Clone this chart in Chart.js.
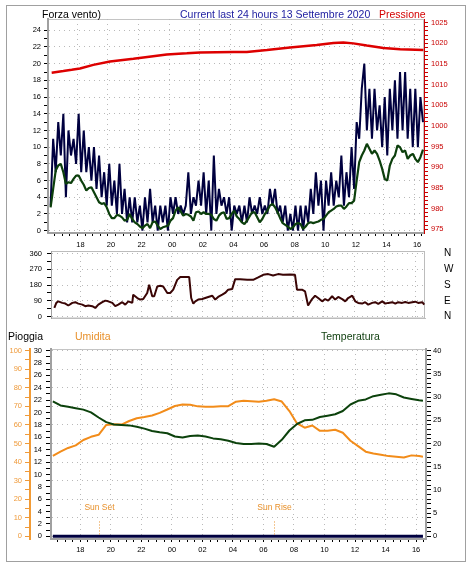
<!DOCTYPE html>
<html>
<head>
<meta charset="utf-8">
<script src="https://cdn.jsdelivr.net/npm/chart.js@4.4.1/dist/chart.umd.min.js"></script>
<style>
  body { margin: 0; background: #fff; width: 472px; height: 568px; position: relative; overflow: hidden;
         font-family: "Liberation Sans", Arial, sans-serif; }
  .frame { position: absolute; left: 6px; top: 5px; width: 458px; height: 555px; border: 1px solid #a0a0a0; }
  canvas { position: absolute; left: 0; }
  .lbl { position: absolute; font-size: 10.5px; line-height: 12px; white-space: nowrap; }
</style>
</head>
<body>
<div class="frame"></div>
<canvas id="vento" width="472" height="252" style="top:0"></canvas>
<canvas id="direzione" width="472" height="90" style="top:238px"></canvas>
<canvas id="meteo" width="472" height="238" style="top:330px"></canvas>
<div class="lbl" style="left:42px;top:8px;color:#000">Forza vento)</div>
<div class="lbl" style="left:180px;top:8px;color:#1c1ca0">Current last 24 hours 13 Settembre 2020</div>
<div class="lbl" style="left:379px;top:8px;color:#d40000">Pressione</div>
<div class="lbl" style="left:8px;top:330px;color:#000">Pioggia</div>
<div class="lbl" style="left:75px;top:330px;color:#e8902a">Umidita</div>
<div class="lbl" style="left:321px;top:330px;color:#0c3c0c">Temperatura</div>
<script>
// --- dati (ore dalla mezzanotte del giorno prima: 24 = 00 del 13) ---
const hourTicks = [18, 20, 22, 24, 26, 28, 30, 32, 34, 36, 38, 40];
const hourLabels = ['18', '20', '22', '00', '02', '04', '06', '08', '10', '12', '14', '16'];

const windTicks = [0, 2, 4, 6, 8, 10, 12, 14, 16, 18, 20, 22, 24];
const pressureTicks = [975, 980, 985, 990, 995, 1000, 1005, 1010, 1015, 1020, 1025];
const dirTicks = [0, 90, 180, 270, 360];
const dirLabels = ['N', 'E', 'S', 'W', 'N'];
const rainTicks = [0, 2, 4, 6, 8, 10, 12, 14, 16, 18, 20, 22, 24, 26, 28, 30];
const humTicks = [0, 10, 20, 30, 40, 50, 60, 70, 80, 90, 100];
const tempTicks = [0, 5, 10, 15, 20, 25, 30, 35, 40];

// vento: un campione ogni 10 minuti dalle 16:15
const WIND_START = 16.25, WIND_STEP = 1 / 6;
const gustValues = [3, 11, 7, 13, 9, 14, 4, 12, 9, 11, 8, 14, 7, 12, 7, 10, 6, 10, 5, 9,
  4, 7, 3, 8, 3, 6, 2, 8, 2, 5, 1, 4, 1, 4, 1, 3, 0, 4, 1, 5,
  1, 3, 0, 3, 1, 3, 0, 4, 2, 4, 2, 3, 2, 3, 7, 2, 4, 3, 6, 3,
  7, 2, 6, 0, 9, 2, 5, 3, 4, 2, 4, 0, 3, 2, 3, 1, 3, 1, 4, 2,
  3, 2, 4, 2, 3, 2, 5, 3, 5, 2, 3, 1, 3, 0, 2, 0, 3, 0, 3, 0,
  3, 1, 5, 2, 7, 3, 6, 0, 6, 3, 7, 3, 6, 4, 9, 3, 7, 4, 10, 5,
  13, 11, 17, 20, 12, 17, 11, 17, 12, 15, 10, 16, 9, 17, 12, 18, 11, 19, 12, 19,
  11, 17, 10, 17, 10, 16, 13];
const windAvgValues = [2.8, 5.0, 7.2, 7.8, 8.0, 7.0, 5.6, 5.8, 5.7, 6.2, 6.6, 6.6, 6.0, 5.5, 4.8, 5.1, 5.2, 4.6, 4.0, 3.4,
  3.2, 3.3, 2.8, 2.0, 1.5, 1.5, 1.9, 1.8, 1.6, 1.2, 1.3, 2.0, 1.4, 1.0, 0.8, 0.5, 0.3, 0.6, 0.8, 0.3,
  1.0, 1.1, 0.6, 0.2, 0.4, 0.5, 0.6, 1.2, 1.5, 2.4, 2.8, 2.3, 1.8, 2.0, 1.9, 1.7, 1.2, 2.2, 2.3, 2.0,
  2.2, 2.0, 2.0, 1.9, 1.4, 1.2, 1.8, 2.1, 2.2, 1.4, 1.5, 2.0, 2.4, 1.7, 1.4, 1.0, 0.8, 1.2, 1.7, 2.2,
  2.2, 1.6, 1.0, 1.4, 2.0, 2.4, 3.0, 3.2, 2.8, 2.2, 1.5, 0.9, 0.7, 0.5, 0.2, 0.4, 0.8, 0.9, 0.8, 0.2,
  0.5, 0.9, 1.0, 0.9, 1.0, 1.1, 1.3, 1.4, 1.8, 2.2, 2.4, 2.6, 2.9, 3.0, 3.0, 2.6, 2.9, 3.3, 3.3, 3.6,
  6.0, 8.2, 9.0, 9.6, 10.4, 9.8, 9.2, 9.6, 9.2, 8.4, 7.4, 6.2, 6.0, 7.8, 8.6, 9.0, 10.2, 10.0, 9.4, 9.6,
  8.6, 9.0, 9.2, 8.6, 8.2, 8.8, 9.7];
const windHours = gustValues.map((_, i) => WIND_START + i * WIND_STEP);

const pressureHours = [16.32, 17.08, 17.63, 18.17, 19.04, 20.13, 21.66, 22.31, 23.84, 25.15, 26.01, 28.19,
  29.07, 30.39, 31.90, 33.64, 34.73, 35.38, 36.03, 36.91, 38.00, 39.09, 40.61];
const pressureValues = [1012.9, 1013.3, 1013.6, 1013.9, 1014.8, 1015.6, 1016.3, 1016.6, 1017.3, 1017.6, 1017.8, 1017.9,
  1017.9, 1018.4, 1019.0, 1019.6, 1020.1, 1020.2, 1020.0, 1019.5, 1018.9, 1018.6, 1018.4];

const dirHours = [16.30, 16.43, 16.56, 16.82, 17.02, 17.22, 17.48, 17.68, 17.87, 18.14,
  18.33, 18.53, 18.79, 18.99, 19.19, 19.45, 19.65, 19.84, 20.11, 20.30,
  20.50, 20.76, 20.96, 21.16, 21.42, 21.48, 21.75, 21.94, 22.14, 22.40,
  22.53, 22.73, 22.86, 23.06, 23.26, 23.45, 23.72, 23.91, 24.11, 24.37,
  24.57, 24.90, 25.16, 25.29, 25.43, 25.56, 25.75, 26.01, 26.21, 26.41,
  26.67, 26.87, 27.06, 27.33, 27.52, 27.72, 27.98, 28.18, 28.51, 28.97,
  29.36, 29.69, 30.02, 30.35, 30.67, 31.00, 31.32, 31.78, 32.11, 32.24,
  32.57, 32.77, 32.97, 33.23, 33.43, 33.63, 33.89, 34.09, 34.29, 34.55,
  34.75, 34.95, 35.21, 35.41, 35.60, 35.87, 36.07, 36.26, 36.52, 36.72,
  36.92, 37.18, 37.38, 37.58, 37.84, 38.04, 38.24, 38.50, 38.70, 38.89,
  39.15, 39.35, 39.55, 39.81, 40.01, 40.20, 40.47, 40.60];
const dirValues = [49, 78, 87, 78, 74, 63, 78, 82, 74, 68,
  59, 63, 59, 49, 68, 82, 91, 87, 78, 59,
  68, 82, 68, 87, 78, 125, 106, 97, 100, 135,
  182, 116, 116, 172, 176, 172, 135, 135, 154, 210,
  226, 226, 226, 106, 74, 87, 97, 100, 106, 112,
  119, 97, 112, 125, 135, 154, 157, 214, 214, 210,
  210, 224, 239, 243, 235, 243, 239, 241, 239, 154,
  154, 144, 63, 100, 119, 106, 87, 100, 91, 116,
  97, 112, 100, 87, 106, 119, 87, 78, 74, 82,
  68, 78, 82, 72, 87, 74, 78, 82, 74, 82,
  78, 83, 78, 82, 85, 78, 82, 68];

const meteoHours = [16.2, 16.7, 17.2, 17.7, 18.2, 18.7, 19.2, 19.7, 20.2, 20.7,
  21.2, 21.7, 22.2, 22.7, 23.2, 23.7, 24.2, 24.7, 25.2, 25.7,
  26.2, 26.7, 27.2, 27.7, 28.2, 28.7, 29.2, 29.7, 30.2, 30.7,
  31.2, 31.7, 32.2, 32.7, 33.2, 33.7, 34.2, 34.7, 35.2, 35.7,
  36.2, 36.7, 37.2, 37.7, 38.2, 38.7, 39.2, 39.7, 40.2, 40.45];
const humidityValues = [43.3, 45.6, 47.6, 49.0, 51.9, 53.6, 54.7, 60.0, 60.4, 60.2,
  62.1, 63.6, 64.3, 65.1, 66.5, 68.3, 70.2, 71.0, 70.9, 70.0,
  69.8, 69.8, 70.0, 70.1, 72.5, 73.0, 72.8, 72.5, 73.0, 73.8,
  72.6, 67.5, 60.8, 58.5, 59.7, 56.8, 56.9, 57.4, 55.8, 51.5,
  48.6, 45.6, 44.6, 43.9, 43.2, 42.9, 42.5, 43.6, 43.2, 42.9];
const tempValues = [29.1, 28.2, 27.9, 27.6, 27.3, 26.7, 25.6, 24.6, 24.1, 24.0,
  23.9, 23.6, 23.2, 22.7, 22.4, 22.2, 21.5, 21.3, 21.6, 21.7,
  21.5, 21.1, 20.9, 20.6, 20.1, 19.9, 19.9, 20.0, 19.9, 19.3,
  20.8, 22.8, 24.2, 25.0, 25.1, 25.7, 26.0, 26.3, 27.0, 28.4,
  29.2, 29.5, 30.2, 30.5, 30.8, 30.6, 29.9, 29.6, 29.3, 29.2];
const rainHours = [16.2, 40.45];
const rainValues = [0, 0];

const sunEvents = [{ label: 'Sun Set', hour: 19.21 }, { label: 'Sun Rise', hour: 30.69 }];

// --- stile ---
const FAMILY = '"Liberation Sans", Arial, sans-serif';
const FONT = { family: FAMILY, size: 7.5 };
const GRID = '#b9b9b9';
const X_MIN = 16.08, X_MAX = 40.65;

const near = (a, b) => Math.abs(a - b) < 1e-6;
const inList = (v, list) => list.some(t => near(t, v));
const pts = (xs, ys) => xs.map((x, i) => ({ x, y: ys[i] }));
function steps(from, to, step) {
  const out = [];
  for (let v = from; v <= to + 1e-9; v += step) out.push({ value: Math.round(v * 1000) / 1000 });
  return out;
}

function timeScale({ height, labels, labelOffset = 0, padding = 3, border, drawTicks = true }) {
  return {
    type: 'linear', position: 'bottom', min: X_MIN, max: X_MAX,
    afterBuildTicks: s => { s.ticks = steps(16.5, 40.5, 0.5); },
    afterFit: s => { s.height = height; },
    grid: {
      color: c => (c.tick && inList(c.tick.value, hourTicks)) ? GRID : 'transparent',
      drawTicks, tickLength: 3, tickColor: '#000', tickWidth: 1
    },
    border: { color: border.color, width: border.width, dash: [1, 4] },
    ticks: {
      display: labels, autoSkip: false, maxRotation: 0, padding, labelOffset, font: FONT, color: '#000',
      callback: v => { const i = hourTicks.findIndex(t => near(t, v)); return i < 0 ? '' : hourLabels[i]; }
    }
  };
}

function valueScale(o) {
  const major = o.major;
  return {
    type: 'linear', position: o.position, min: o.min, max: o.max, weight: o.weight || 0,
    afterBuildTicks: s => {
      s.ticks = o.minor ? steps(major[0], major[major.length - 1], o.minor) : major.map(value => ({ value }));
    },
    afterFit: s => { s.width = o.width; },
    grid: {
      drawOnChartArea: !!o.grid,
      color: c => (c.tick && inList(c.tick.value, major)) ? GRID : 'transparent',
      tickLength: o.tickLength || 4, tickColor: o.tickColor || '#000', tickWidth: 1
    },
    border: o.border ? { color: o.border.color, width: o.border.width, dash: [1, 4] } : { display: false, dash: [1, 4] },
    ticks: {
      autoSkip: false, padding: o.padding || 3, font: o.font || FONT, color: o.color || '#000',
      callback: o.labelFor || (v => inList(v, major) ? String(v) : '')
    }
  };
}

const plotFrame = {
  id: 'plotFrame',
  beforeDraw(chart, args, opts) {
    const { ctx, chartArea: a } = chart;
    ctx.save();
    ctx.strokeStyle = opts.color || '#c4c4c4';
    ctx.lineWidth = 1;
    ctx.strokeRect(a.left + 0.5, a.top + 0.5, a.width - 1, a.height - 1);
    ctx.restore();
  }
};

const sunMarks = {
  id: 'sunMarks',
  afterDatasetsDraw(chart) {
    const { ctx, scales: { x, rain } } = chart;
    ctx.save();
    ctx.strokeStyle = '#e8902a';
    ctx.fillStyle = '#e8902a';
    ctx.font = '8.5px ' + FAMILY;
    ctx.textAlign = 'center';
    ctx.setLineDash([1, 2]);
    sunEvents.forEach(e => {
      const px = Math.round(x.getPixelForValue(e.hour)) + 0.5;
      ctx.beginPath();
      ctx.moveTo(px, rain.getPixelForValue(2.4));
      ctx.lineTo(px, rain.getPixelForValue(0));
      ctx.stroke();
      ctx.fillText(e.label, px, rain.getPixelForValue(4.2));
    });
    ctx.restore();
  }
};

const common = {
  responsive: false, animation: false, devicePixelRatio: 1,
  elements: { point: { radius: 0 }, line: { tension: 0, borderJoinStyle: 'bevel' } },
};
const noLegend = { legend: { display: false }, tooltip: { enabled: false } };

// grafico vento + pressione
new Chart(document.getElementById('vento'), {
  type: 'line',
  data: {
    datasets: [
      { data: pts(windHours, windAvgValues), borderColor: '#0c3f0c', borderWidth: 2.2, yAxisID: 'wind' },
      { data: pts(windHours, gustValues), borderColor: '#00003f', borderWidth: 2, yAxisID: 'wind' },
      { data: pts(pressureHours, pressureValues), borderColor: '#dd0000', borderWidth: 2.5, yAxisID: 'press' }
    ]
  },
  options: {
    ...common,
    layout: { padding: { top: 19 } },
    plugins: { ...noLegend, plotFrame: { color: '#c4c4c4' } },
    scales: {
      x: timeScale({ height: 19, labels: true, labelOffset: 3, padding: 4, border: { color: '#a0a0a0', width: 2 } }),
      wind: valueScale({ position: 'left', width: 48, min: -0.28, max: 25.35, major: windTicks, minor: 1,
        grid: true, border: { color: '#a0a0a0', width: 2 } }),
      press: valueScale({ position: 'right', width: 48, min: 974.1, max: 1025.9, major: pressureTicks, minor: 1,
        color: '#c80000', tickColor: '#c80000', border: { color: '#cc0000', width: 1 } })
    }
  },
  plugins: [plotFrame]
});

// direzione vento
new Chart(document.getElementById('direzione'), {
  type: 'line',
  data: {
    datasets: [
      { data: pts(dirHours, dirValues), borderColor: '#3a0505', borderWidth: 2, yAxisID: 'dir' }
    ]
  },
  options: {
    ...common,
    layout: { padding: { top: 13 } },
    plugins: { ...noLegend, plotFrame: { color: '#bcbcbc' } },
    scales: {
      x: timeScale({ height: 9, labels: false, drawTicks: false, border: { color: '#bcbcbc', width: 1 } }),
      dir: valueScale({ position: 'left', width: 51, min: -11.4, max: 375.4, major: dirTicks, minor: 45,
        grid: true, border: { color: '#a0a0a0', width: 1 }, padding: 5 }),
      card: valueScale({ position: 'right', width: 47, min: -11.4, max: 375.4, major: dirTicks,
        tickLength: 17, tickColor: 'transparent', padding: 2, font: { family: FAMILY, size: 10 },
        labelFor: v => dirLabels[dirTicks.findIndex(t => near(t, v))] })
    }
  },
  plugins: [plotFrame]
});

// pioggia, umidita, temperatura
new Chart(document.getElementById('meteo'), {
  type: 'line',
  data: {
    datasets: [
      { data: pts(rainHours, rainValues), borderColor: '#000040', borderWidth: 3, yAxisID: 'rain' },
      { data: pts(meteoHours, tempValues), borderColor: '#0c420c', borderWidth: 2, yAxisID: 'temp' },
      { data: pts(meteoHours, humidityValues), borderColor: '#f28c1a', borderWidth: 2, yAxisID: 'hum' }
    ]
  },
  options: {
    ...common,
    layout: { padding: { top: 19 } },
    plugins: { ...noLegend, plotFrame: { color: '#c4c4c4' } },
    scales: {
      x: timeScale({ height: 29, labels: true, padding: 3, border: { color: '#a0a0a0', width: 2 } }),
      hum: valueScale({ position: 'left', weight: 1, width: 30, min: -1.45, max: 100.9, major: humTicks, minor: 5,
        grid: true, color: '#ef9a3a', tickColor: '#ef9a3a', border: { color: '#f29b35', width: 2 },
        tickLength: 5, padding: 3 }),
      rain: valueScale({ position: 'left', weight: 0, width: 21, min: -0.43, max: 30.27, major: rainTicks, minor: 1,
        border: { color: '#a0a0a0', width: 2 }, tickLength: 5, padding: 4 }),
      temp: valueScale({ position: 'right', width: 46, min: -0.58, max: 40.36, major: tempTicks, minor: 1,
        border: { color: '#a0a0a0', width: 2 }, tickLength: 5, padding: 2 })
    }
  },
  plugins: [plotFrame, sunMarks]
});
</script>
</body>
</html>
